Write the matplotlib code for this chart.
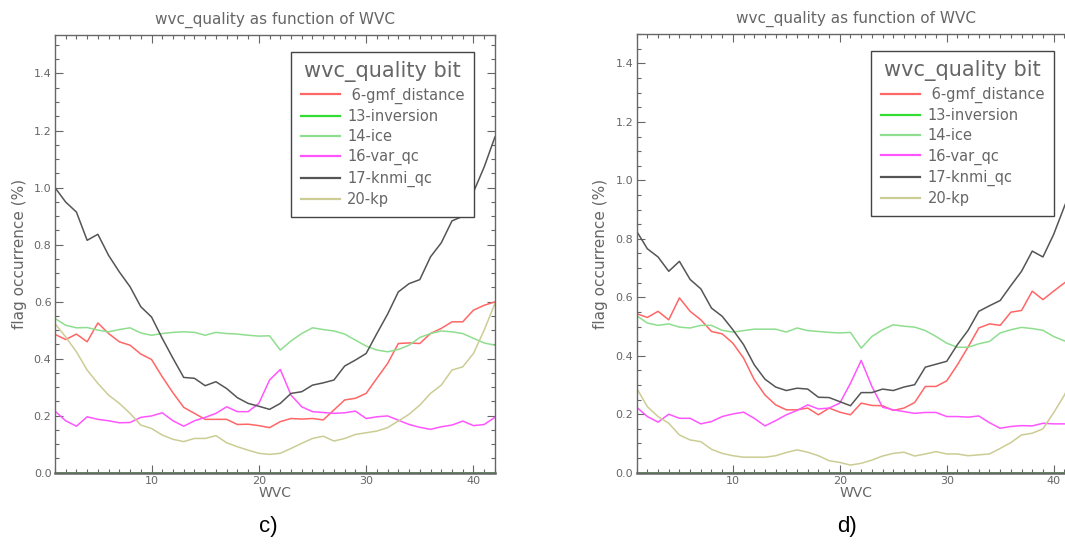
import matplotlib
matplotlib.use("Agg")
import matplotlib.pyplot as plt
from matplotlib.ticker import MultipleLocator, FormatStrFormatter

# wind vector cell index along the swath
wvc = list(range(1, 43))

labels = [" 6-gmf_distance", "13-inversion", "14-ice", "16-var_qc", "17-knmi_qc", "20-kp"]
colors = ["#ff6666", "#33dd33", "#8fde8f", "#ff55ff", "#555555", "#cccc95"]

# panel c)
c_gmf = [0.485, 0.467, 0.486, 0.459, 0.525, 0.488, 0.459, 0.447, 0.416, 0.397,
         0.336, 0.280, 0.229, 0.208, 0.187, 0.187, 0.187, 0.169, 0.170, 0.165,
         0.158, 0.179, 0.190, 0.188, 0.190, 0.185, 0.220, 0.255, 0.261, 0.278,
         0.331, 0.383, 0.453, 0.455, 0.453, 0.488, 0.506, 0.529, 0.529, 0.570,
         0.587, 0.599]
c_inversion = [0.0] * 42
c_ice = [0.541, 0.517, 0.508, 0.509, 0.500, 0.494, 0.502, 0.508, 0.490, 0.482,
         0.488, 0.492, 0.494, 0.492, 0.482, 0.492, 0.488, 0.486, 0.482, 0.479,
         0.480, 0.430, 0.462, 0.488, 0.508, 0.502, 0.497, 0.486, 0.465, 0.444,
         0.430, 0.424, 0.432, 0.447, 0.474, 0.488, 0.497, 0.494, 0.488, 0.471,
         0.455, 0.447]
c_varqc = [0.216, 0.182, 0.163, 0.196, 0.187, 0.182, 0.175, 0.176, 0.194, 0.199,
           0.210, 0.182, 0.163, 0.182, 0.194, 0.208, 0.231, 0.214, 0.214, 0.243,
           0.325, 0.362, 0.272, 0.231, 0.214, 0.211, 0.208, 0.210, 0.216, 0.190,
           0.196, 0.199, 0.184, 0.169, 0.159, 0.152, 0.161, 0.167, 0.181, 0.165,
           0.169, 0.194]
c_knmi = [1.000, 0.949, 0.914, 0.815, 0.836, 0.762, 0.704, 0.652, 0.582, 0.546,
          0.471, 0.401, 0.334, 0.331, 0.305, 0.319, 0.295, 0.263, 0.243, 0.233,
          0.222, 0.243, 0.278, 0.284, 0.307, 0.315, 0.325, 0.374, 0.395, 0.418,
          0.488, 0.556, 0.634, 0.663, 0.677, 0.757, 0.806, 0.883, 0.899, 0.984,
          1.072, 1.177]
c_kp = [0.523, 0.476, 0.424, 0.360, 0.313, 0.272, 0.243, 0.208, 0.167, 0.155,
        0.132, 0.117, 0.109, 0.120, 0.120, 0.130, 0.105, 0.091, 0.079, 0.068,
        0.064, 0.068, 0.085, 0.103, 0.120, 0.128, 0.111, 0.120, 0.134, 0.140,
        0.146, 0.158, 0.181, 0.205, 0.237, 0.278, 0.307, 0.360, 0.371, 0.418,
        0.500, 0.593]

# panel d)
d_gmf = [0.544, 0.531, 0.552, 0.523, 0.598, 0.552, 0.523, 0.483, 0.475, 0.443,
         0.392, 0.318, 0.266, 0.232, 0.215, 0.215, 0.221, 0.198, 0.221, 0.207,
         0.198, 0.238, 0.230, 0.229, 0.213, 0.221, 0.240, 0.295, 0.295, 0.314,
         0.369, 0.430, 0.495, 0.509, 0.504, 0.549, 0.555, 0.621, 0.592, 0.621,
         0.649, 0.675]
d_inversion = [0.0] * 42
d_ice = [0.537, 0.512, 0.504, 0.509, 0.498, 0.495, 0.504, 0.504, 0.487, 0.481,
         0.486, 0.491, 0.491, 0.491, 0.481, 0.495, 0.486, 0.483, 0.480, 0.478,
         0.480, 0.426, 0.466, 0.489, 0.506, 0.501, 0.498, 0.486, 0.466, 0.443,
         0.429, 0.429, 0.441, 0.449, 0.478, 0.489, 0.497, 0.493, 0.487, 0.466,
         0.451, 0.445]
d_varqc = [0.224, 0.192, 0.173, 0.200, 0.186, 0.186, 0.167, 0.175, 0.192, 0.201,
           0.207, 0.186, 0.160, 0.178, 0.198, 0.213, 0.232, 0.218, 0.221, 0.238,
           0.306, 0.384, 0.295, 0.224, 0.215, 0.209, 0.203, 0.206, 0.206, 0.192,
           0.192, 0.190, 0.194, 0.171, 0.152, 0.158, 0.161, 0.160, 0.169, 0.167,
           0.167, 0.167]
d_knmi = [0.826, 0.766, 0.738, 0.689, 0.723, 0.661, 0.629, 0.563, 0.535, 0.489,
          0.438, 0.369, 0.320, 0.293, 0.281, 0.289, 0.286, 0.258, 0.257, 0.243,
          0.229, 0.274, 0.274, 0.286, 0.281, 0.293, 0.301, 0.361, 0.371, 0.381,
          0.438, 0.487, 0.552, 0.571, 0.589, 0.640, 0.689, 0.758, 0.738, 0.815,
          0.910, 1.000]
d_kp = [0.289, 0.226, 0.192, 0.169, 0.129, 0.112, 0.106, 0.080, 0.066, 0.058,
        0.053, 0.053, 0.053, 0.058, 0.069, 0.078, 0.070, 0.058, 0.041, 0.035,
        0.026, 0.032, 0.043, 0.057, 0.066, 0.070, 0.057, 0.064, 0.072, 0.064,
        0.064, 0.058, 0.061, 0.064, 0.083, 0.103, 0.129, 0.135, 0.150, 0.205,
        0.265, 0.340]

panel_c = [c_gmf, c_inversion, c_ice, c_varqc, c_knmi, c_kp]
panel_d = [d_gmf, d_inversion, d_ice, d_varqc, d_knmi, d_kp]

GREY = "#666666"


def draw_panel(ax, series, ymax):
    for vals, lab, col in zip(series, labels, colors):
        ax.plot(wvc, vals, color=col, lw=1.1, label=lab)
    ax.set_xlim(1, 42)
    ax.set_ylim(0, ymax)
    ax.xaxis.set_major_locator(MultipleLocator(10))
    ax.xaxis.set_minor_locator(MultipleLocator(1))
    ax.yaxis.set_major_locator(MultipleLocator(0.2))
    ax.yaxis.set_minor_locator(MultipleLocator(0.05))
    ax.yaxis.set_major_formatter(FormatStrFormatter("%.1f"))
    ax.tick_params(which="both", direction="in", top=True, right=True,
                   color=GREY, labelcolor=GREY, labelsize=8, width=0.8)
    ax.tick_params(which="major", length=5.5, pad=2.5)
    ax.tick_params(which="minor", length=2.8)
    for sp in ax.spines.values():
        sp.set_color(GREY)
        sp.set_linewidth(1.0)
        sp.set_zorder(3)
    # a flag that never fires sits on the x axis; keep the axis line grey
    ax.spines["bottom"].set_linewidth(1.8)
    ax.set_title("wvc_quality as function of WVC", fontsize=11, color=GREY, pad=8)
    ax.set_xlabel("WVC", fontsize=10, color=GREY, labelpad=0)
    ax.set_ylabel("flag occurrence (%)", fontsize=11, color=GREY, labelpad=5)
    leg = ax.legend(loc="upper right", bbox_to_anchor=(0.953, 0.962),
                    borderaxespad=0, fontsize=10.5, title="wvc_quality bit",
                    title_fontsize=15, frameon=True, fancybox=False,
                    handlelength=2.7, handletextpad=0.5, labelspacing=0.36,
                    borderpad=0.65, framealpha=1)
    leg.get_frame().set_edgecolor("#444444")
    leg.get_frame().set_linewidth(1.0)
    leg.get_title().set_color(GREY)
    for t in leg.get_texts():
        t.set_color(GREY)
    for h in leg.get_lines():
        h.set_linewidth(1.6)


fig = plt.figure(figsize=(10.65, 5.44), dpi=100)
ax_c = fig.add_axes([0.0516, 0.1311, 0.4131, 0.8046])
ax_d = fig.add_axes([0.5978, 0.1311, 0.4116, 0.806])

draw_panel(ax_c, panel_c, 1.535)
draw_panel(ax_d, panel_d, 1.5)

fig.text(0.252, 0.012, "c)", fontsize=16, family="Liberation Sans", ha="center", va="bottom")
fig.text(0.795, 0.012, "d)", fontsize=16, family="Liberation Sans", ha="center", va="bottom")

fig.savefig("out.png", dpi=100)
